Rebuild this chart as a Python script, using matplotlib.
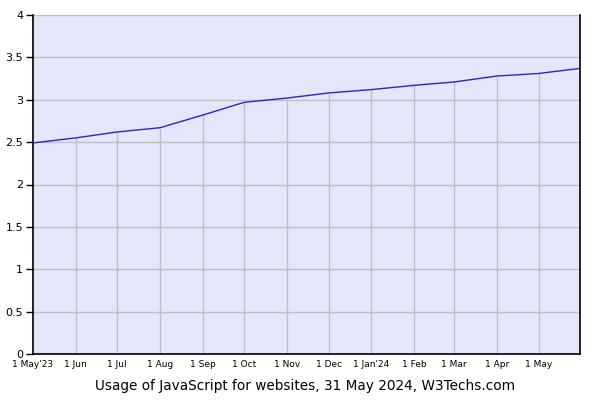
import matplotlib
matplotlib.use("Agg")
import matplotlib.pyplot as plt
import matplotlib.dates as mdates
import numpy as np
from datetime import date

# monthly usage share (%)
dates = [date(2023, 5, 1), date(2023, 6, 1), date(2023, 7, 1), date(2023, 8, 1),
         date(2023, 9, 1), date(2023, 10, 1), date(2023, 11, 1), date(2023, 12, 1),
         date(2024, 1, 1), date(2024, 2, 1), date(2024, 3, 1), date(2024, 4, 1),
         date(2024, 5, 1), date(2024, 5, 31)]
values = [2.49, 2.55, 2.62, 2.67, 2.82, 2.97, 3.02, 3.08, 3.12, 3.17, 3.21, 3.28, 3.31, 3.37]
tick_labels = ["1 May'23", "1 Jun", "1 Jul", "1 Aug", "1 Sep", "1 Oct", "1 Nov",
               "1 Dec", "1 Jan'24", "1 Feb", "1 Mar", "1 Apr", "1 May"]
y_ticks = [0, 0.5, 1, 1.5, 2, 2.5, 3, 3.5, 4]
y_labels = ["0", "0.5", "1", "1.5", "2", "2.5", "3", "3.5", "4"]

plt.rcParams['font.family'] = ['DejaVu Sans']

fig = plt.figure(figsize=(6, 4), dpi=100)
ax = fig.add_axes([33 / 600, 46 / 400, 547 / 600, 339 / 400])
ax.set_facecolor('#e6e6fa')

x = mdates.date2num(dates)
grid_c = '#c0c0c0'

# horizontal grid full width, vertical grid only up to the line
for yv in y_ticks[1:]:
    ax.axhline(yv, color=grid_c, lw=1, zorder=1)
ax.vlines(x[1:-1], 0, values[1:-1], color=grid_c, lw=1, zorder=1)

ax.plot(x, values, color='#2828c0', lw=1, zorder=3)

ax.set_xlim(x[0], x[-1])
ax.set_ylim(0, 4)
ax.set_yticks(y_ticks)
ax.set_yticklabels(y_labels, fontsize=8)
ax.set_xticks(x[:-1])
ax.set_xticklabels(tick_labels, fontsize=6.5)
ax.tick_params(axis='x', length=0, pad=4)
ax.tick_params(axis='y', length=5, width=1, pad=2, direction='out')

for s in ['left', 'bottom', 'right']:
    ax.spines[s].set_color('black')
    ax.spines[s].set_linewidth(1.2)
ax.spines['top'].set_visible(False)

fig.text(305 / 600, 1 - 386 / 400, "Usage of JavaScript for websites, 31 May 2024, W3Techs.com",
         ha='center', va='center', fontsize=9.8)

fig.savefig("out.png", dpi=100)
